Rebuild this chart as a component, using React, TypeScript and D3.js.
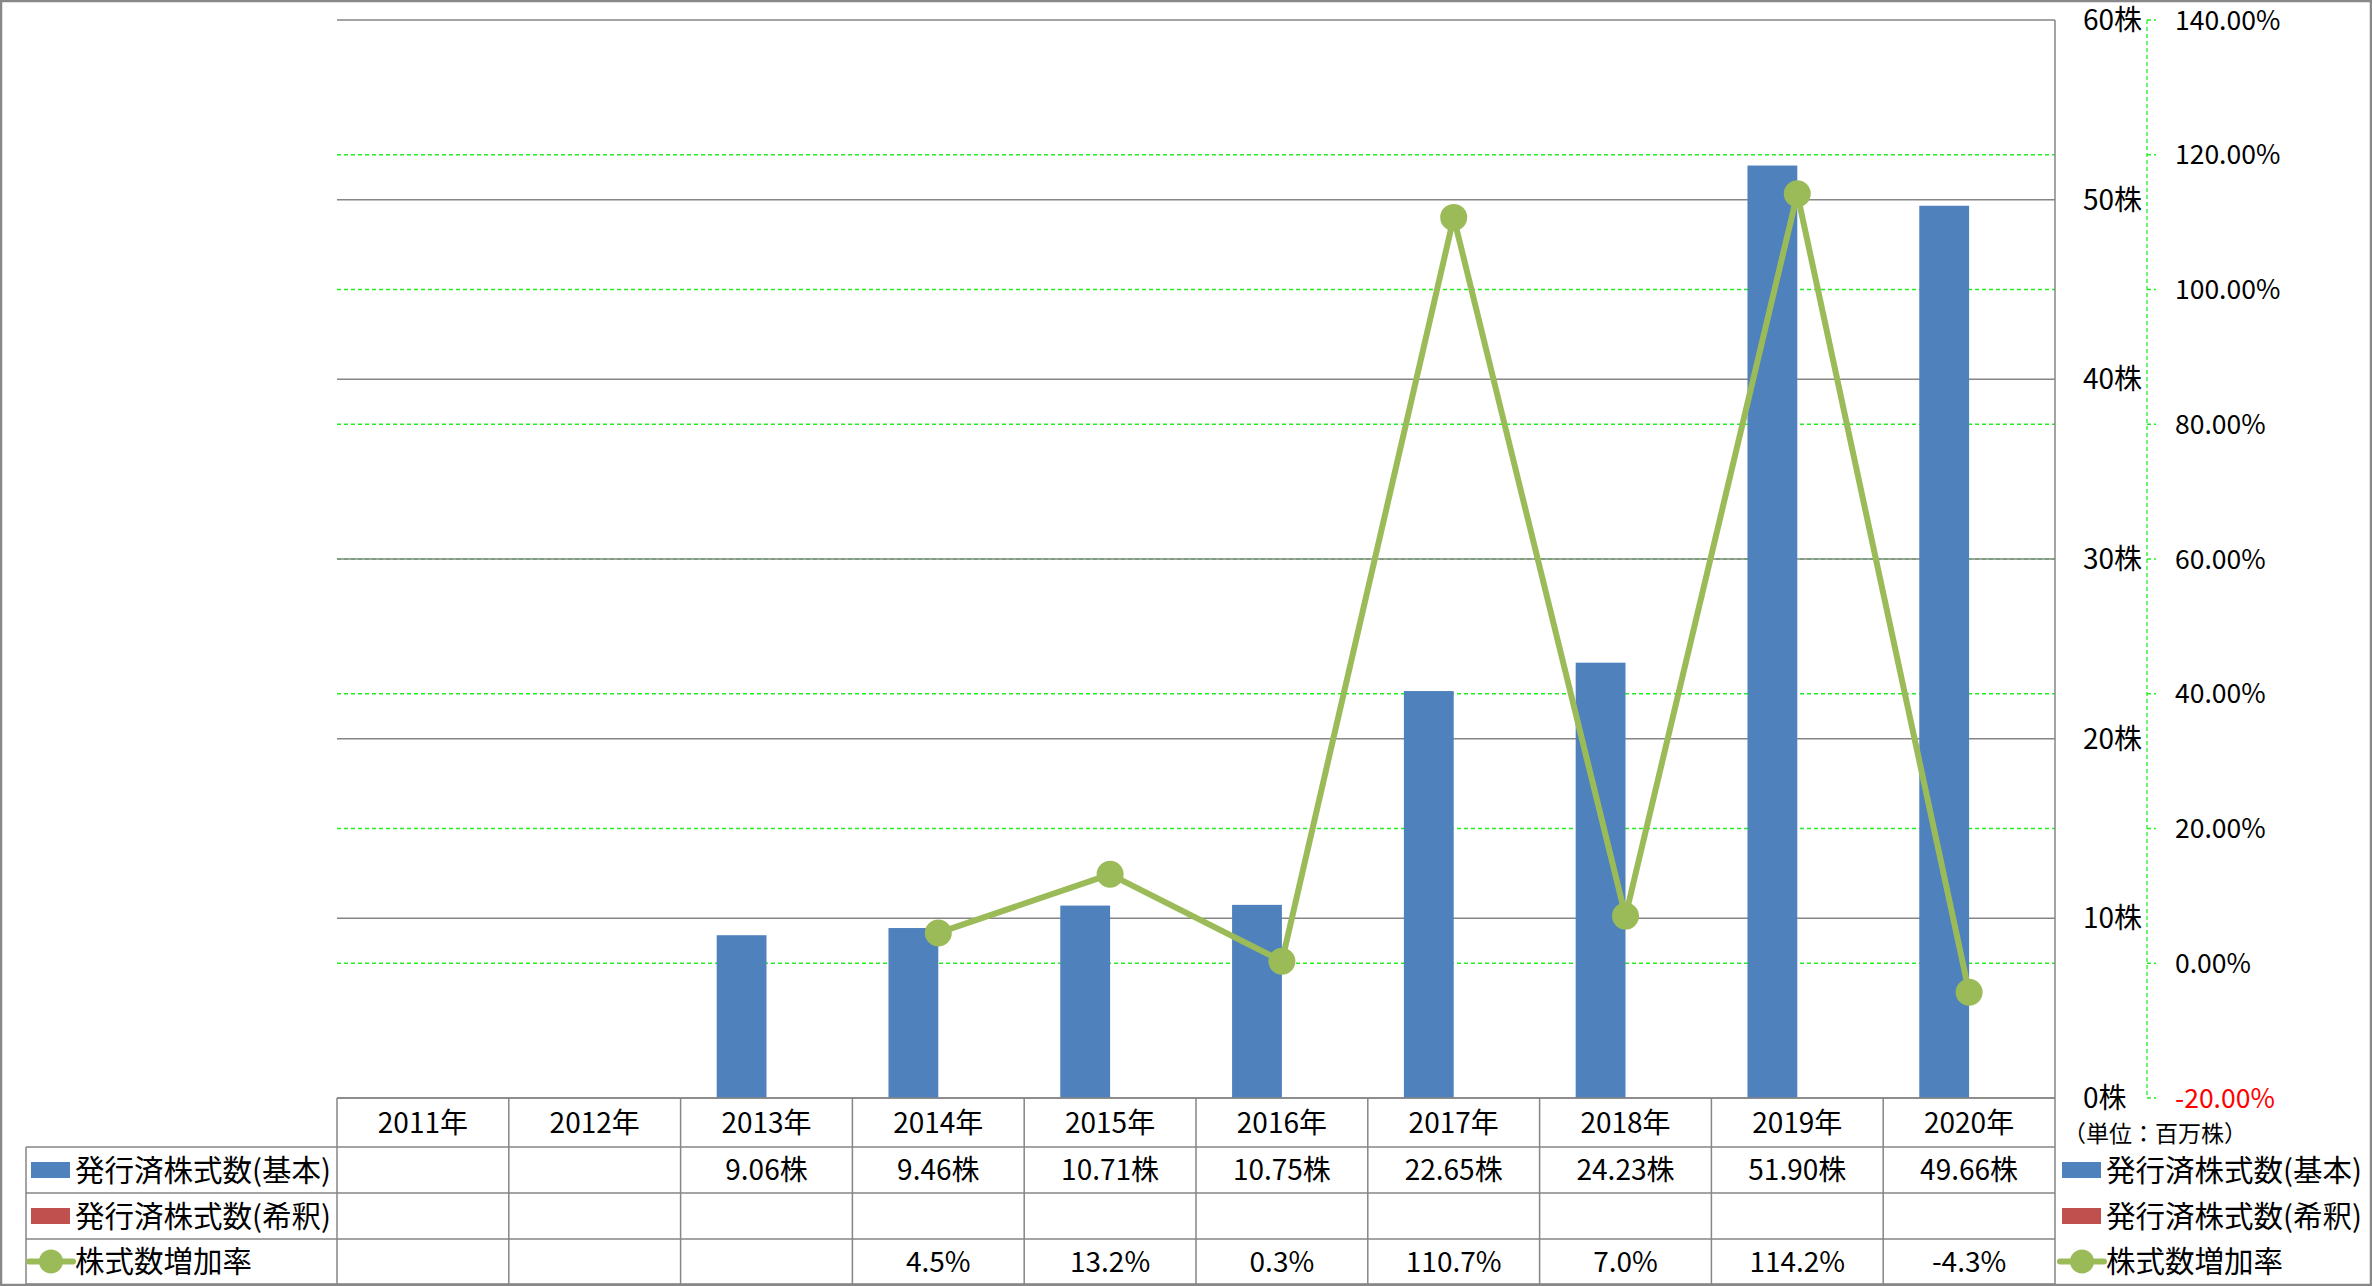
import React from "react";
import * as d3 from "d3";

const years = ["2011年", "2012年", "2013年", "2014年", "2015年", "2016年", "2017年", "2018年", "2019年", "2020年"];
const basicShares: (number | null)[] = [null, null, 9.06, 9.46, 10.71, 10.75, 22.65, 24.23, 51.9, 49.66];
const dilutedShares: (number | null)[] = [null, null, null, null, null, null, null, null, null, null];
const growthRate: (number | null)[] = [null, null, null, 4.5, 13.2, 0.3, 110.7, 7.0, 114.2, -4.3];
const leftTicks = [0, 10, 20, 30, 40, 50, 60];
const rightTicks = [-20, 0, 20, 40, 60, 80, 100, 120, 140];
const seriesNames = ["発行済株式数(基本)", "発行済株式数(希釈)", "株式数増加率"];
const unitLabel = "（単位：百万株）";

const W = 2372;
const H = 1286;
const FONT = "'Noto Sans CJK JP', 'Noto Sans', sans-serif";
const BLUE = "#4F81BD";
const RED = "#C0504D";
const GREEN = "#9BBB59";
const GRID = "#868686";
const DASH_GREEN = "#22EE22";

const hy = (s: string) => s.replace(/\u2212/g, "-");

export default function App() {
  const plotL = 337;
  const plotR = 2055;
  const plotT = 20;
  const plotB = 1098;
  const rows = [1098, 1147, 1193, 1239, 1284];
  const tableL = 26;

  const x = d3.scaleBand<string>().domain(years).range([plotL, plotR]).padding(0);
  const bw = x.bandwidth();
  const cx = (i: number) => (x(years[i]) as number) + bw / 2;
  const yL = d3.scaleLinear().domain([0, 60]).range([plotB, plotT]);
  const yR = d3.scaleLinear().domain([-20, 140]).range([plotB, plotT]);
  const barW = bw * 0.29;

  const linePts = growthRate
    .map((v, i) => (v == null ? null : ([cx(i), yR(v)] as [number, number])))
    .filter((p): p is [number, number] => p !== null);
  const lineGen = d3.line<[number, number]>();

  const axisX = 2147;
  const rowMid = (r: number) => (rows[r] + rows[r + 1]) / 2;

  const fmtBasic = (v: number | null) => (v == null ? "" : hy(d3.format(".2f")(v)) + "株");
  const fmtRate = (v: number | null) => (v == null ? "" : hy(d3.format(".1f")(v)) + "%");

  const legendIcon = (k: number, x0: number, yc: number) => {
    if (k === 0) return <rect x={x0} y={yc - 8} width={39} height={16} fill={BLUE} />;
    if (k === 1) return <rect x={x0} y={yc - 8} width={39} height={16} fill={RED} />;
    return (
      <g>
        <line x1={x0 - 2} x2={x0 + 42} y1={yc} y2={yc} stroke={GREEN} strokeWidth={6} strokeLinecap="round" />
        <circle cx={x0 + 20} cy={yc} r={12} fill={GREEN} />
      </g>
    );
  };

  return (
    <svg
      width={W}
      height={H}
      style={{ position: "absolute", left: 0, top: 0, display: "block", background: "#fff" }}
      fontFamily={FONT}
    >
      <rect x={0} y={0} width={W} height={H} fill="#fff" />
      {/* green dashed secondary gridlines */}
      {rightTicks
        .filter((t) => t !== -20 && t !== 140)
        .map((t) => (
          <line key={"rg" + t} x1={plotL} x2={plotR} y1={yR(t)} y2={yR(t)} stroke={DASH_GREEN} strokeWidth={1.3} strokeDasharray="4,3" />
        ))}
      {/* primary gridlines */}
      {leftTicks.map((t) => (
        <line key={"lg" + t} x1={plotL} x2={plotR} y1={yL(t)} y2={yL(t)} stroke={GRID} strokeWidth={1.5} />
      ))}
      {/* bars */}
      {basicShares.map((v, i) =>
        v == null ? null : (
          <rect key={"b" + i} x={cx(i) - barW} y={yL(v)} width={barW} height={yL(0) - yL(v)} fill={BLUE} />
        )
      )}
      {dilutedShares.map((v, i) =>
        v == null ? null : (
          <rect key={"d" + i} x={cx(i)} y={yL(v)} width={barW} height={yL(0) - yL(v)} fill={RED} />
        )
      )}
      {/* line */}
      <path d={lineGen(linePts) || ""} fill="none" stroke={GREEN} strokeWidth={6} strokeLinejoin="round" />
      {linePts.map((p, i) => (
        <circle key={"m" + i} cx={p[0]} cy={p[1]} r={13.5} fill={GREEN} />
      ))}
      {/* plot right border */}
      <line x1={plotR} x2={plotR} y1={plotT} y2={rows[4]} stroke={GRID} strokeWidth={1.5} />
      {/* left axis labels */}
      {leftTicks.map((t) => (
        <text key={"lt" + t} x={2083} y={yL(t)} dy="0.36em" fontSize={28} fill="#000">
          {t + "株"}
        </text>
      ))}
      {/* secondary axis */}
      <line x1={axisX} x2={axisX} y1={plotT} y2={plotB} stroke={DASH_GREEN} strokeWidth={1.3} strokeDasharray="4,3" />
      {rightTicks.map((t) => (
        <g key={"rt" + t}>
          <line x1={axisX} x2={axisX + 9} y1={yR(t)} y2={yR(t)} stroke={DASH_GREEN} strokeWidth={1.3} strokeDasharray="4,3" />
          <text x={2175} y={yR(t)} dy="0.36em" fontSize={26.5} fill={t < 0 ? "#FF0000" : "#000"}>
            {hy(d3.format(".2f")(t)) + "%"}
          </text>
        </g>
      ))}
      <text x={2063} y={1134} dy="0.36em" fontSize={23} fill="#000">
        {unitLabel}
      </text>
      {/* table */}
      <g stroke={GRID} strokeWidth={1.5}>
        <line x1={plotL} x2={plotR} y1={rows[0]} y2={rows[0]} />
        {rows.slice(1).map((r, i) => (
          <line key={"tr" + i} x1={tableL} x2={plotR} y1={r} y2={r} />
        ))}
        <line x1={tableL} x2={tableL} y1={rows[1]} y2={rows[4]} />
        {years.map((yr, i) => (
          <line key={"tc" + i} x1={x(yr) as number} x2={x(yr) as number} y1={rows[0]} y2={rows[4]} />
        ))}
      </g>
      {years.map((yr, i) => (
        <text key={"yh" + i} x={cx(i)} y={rowMid(0)} dy="0.36em" textAnchor="middle" fontSize={28} fill="#000">
          {yr}
        </text>
      ))}
      {basicShares.map((v, i) => (
        <text key={"bv" + i} x={cx(i)} y={rowMid(1)} dy="0.36em" textAnchor="middle" fontSize={28} fill="#000">
          {fmtBasic(v)}
        </text>
      ))}
      {growthRate.map((v, i) => (
        <text key={"gv" + i} x={cx(i)} y={rowMid(3)} dy="0.36em" textAnchor="middle" fontSize={28} fill="#000">
          {fmtRate(v)}
        </text>
      ))}
      {/* left legend in table */}
      {seriesNames.map((n, k) => (
        <g key={"ll" + k}>
          {legendIcon(k, 31, rowMid(k + 1))}
          <text x={75} y={rowMid(k + 1)} dy="0.36em" fontSize={29.5} fill="#000">
            {n}
          </text>
        </g>
      ))}
      {/* right legend */}
      {seriesNames.map((n, k) => (
        <g key={"rl" + k}>
          {legendIcon(k, 2062, rowMid(k + 1))}
          <text x={2106} y={rowMid(k + 1)} dy="0.36em" fontSize={29.5} fill="#000">
            {n}
          </text>
        </g>
      ))}
      {/* outer border */}
      <rect x={1} y={1} width={W - 2} height={H - 2} fill="none" stroke="#888" strokeWidth={2.5} />
    </svg>
  );
}
